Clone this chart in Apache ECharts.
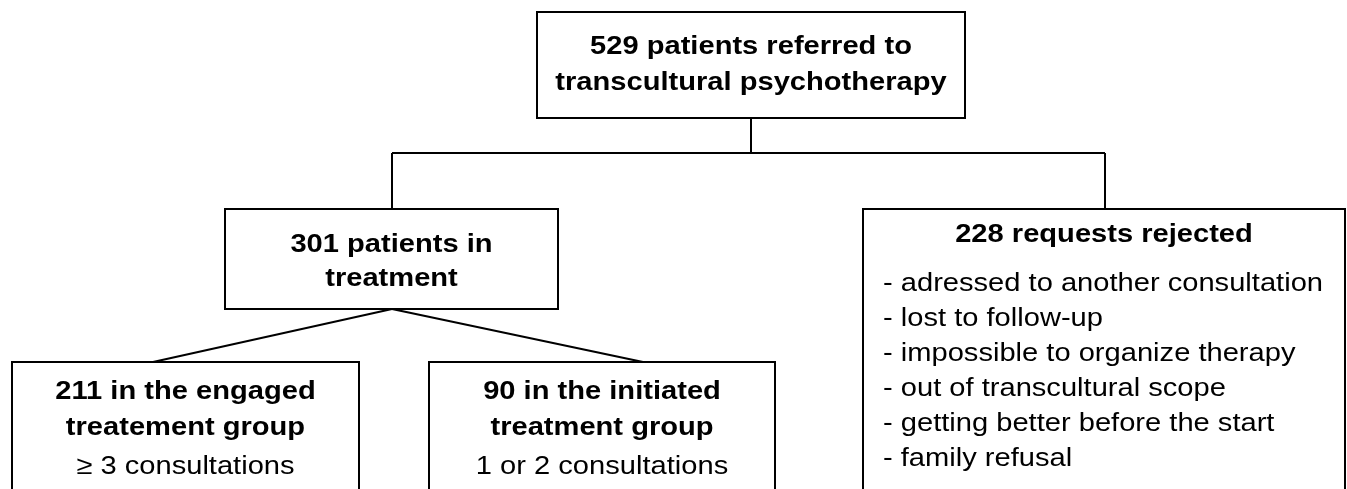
<!DOCTYPE html>
<html><head><meta charset="utf-8">
<script src="https://cdn.jsdelivr.net/npm/echarts@6/dist/echarts.min.js"></script>
<style>html,body{margin:0;padding:0;background:#fff}#c{width:1347px;height:489px}</style>
</head><body><div id="c"></div>
<script>
// ---- data ----
const nodeCounts = [529, 301, 228, 211, 90];
const nodeTitleRest = [
  ['patients referred to', 'transcultural psychotherapy'],
  ['patients in', 'treatment'],
  ['requests rejected'],
  ['in the engaged', 'treatement group'],
  ['in the initiated', 'treatment group']
];
const rejectionReasons = [
  '- adressed to another consultation',
  '- lost to follow-up',
  '- impossible to organize therapy',
  '- out of transcultural scope',
  '- getting better before the start',
  '- family refusal'
];
const nodeDetails = [[], [], rejectionReasons, ['\u2265 3 consultations'], ['1 or 2 consultations']];

// ---- layout (chart units = pixels) ----
const boxes = [[537,12,965,118],[225,209,558,309],[863,209,1345,500],[12,362,359,500],[429,362,775,500]];
const titleBaselines = [[55,91],[253,287],[243],[400,436],[400,436]];
const detailBaselines = [[],[],[292,327,362,397,432,467],[475],[475]];
const detailLeft = [null,null,883,null,null];
const connectors = [
  [[751,118],[751,153]],
  [[392,153],[1105,153]],
  [[392,153],[392,209]],
  [[1105,153],[1105,209]],
  [[392,309],[153,362]],
  [[392,309],[643,362]]
];

const FONT = '"Liberation Sans", Arial, Helvetica, sans-serif';
const FS = 25.6, SX = 1.137, MID = 8;

function titleLines(i) {
  const rest = nodeTitleRest[i].slice();
  rest[0] = nodeCounts[i] + ' ' + rest[0];
  return rest;
}

const chart = echarts.init(document.getElementById('c'), null, {renderer: 'canvas'});
chart.setOption({
  animation: false,
  backgroundColor: '#ffffff',
  grid: {left: 0, right: 0, top: 0, bottom: 0},
  xAxis: {type: 'value', min: 0, max: 1347, show: false},
  yAxis: {type: 'value', min: 0, max: 489, inverse: true, show: false},
  series: [
    {
      type: 'custom',
      coordinateSystem: 'cartesian2d',
      clip: false,
      data: connectors.map((c, i) => [i]),
      renderItem: function (params, api) {
        const c = connectors[params.dataIndex];
        const pts = c.map(p => api.coord(p));
        return {type: 'polyline', shape: {points: pts}, style: {stroke: '#000', lineWidth: 2, fill: null}};
      }
    },
    {
      type: 'custom',
      coordinateSystem: 'cartesian2d',
      clip: false,
      data: nodeCounts.map((v, i) => [i, v]),
      renderItem: function (params, api) {
        const i = params.dataIndex;
        const b = boxes[i];
        const p0 = api.coord([b[0], b[1]]);
        const p1 = api.coord([b[2], b[3]]);
        const cx = (p0[0] + p1[0]) / 2;
        const children = [{
          type: 'rect',
          shape: {x: p0[0], y: p0[1], width: p1[0] - p0[0], height: p1[1] - p0[1]},
          style: {stroke: '#000', lineWidth: 2, fill: '#fff'}
        }];
        titleLines(i).forEach((t, k) => {
          const y = api.coord([0, titleBaselines[i][k]])[1];
          children.push({
            type: 'text', x: cx, y: y - MID, scaleX: SX,
            style: {text: t, fill: '#000', font: 'bold ' + FS + 'px ' + FONT, align: 'center', verticalAlign: 'middle'}
          });
        });
        nodeDetails[i].forEach((t, k) => {
          const y = api.coord([0, detailBaselines[i][k]])[1];
          const left = detailLeft[i];
          children.push({
            type: 'text', x: left == null ? cx : api.coord([left, 0])[0], y: y - MID, scaleX: SX,
            style: {text: t, fill: '#000', font: FS + 'px ' + FONT, align: left == null ? 'center' : 'left', verticalAlign: 'middle'}
          });
        });
        return {type: 'group', children: children};
      }
    }
  ]
});
</script>
</body></html>
